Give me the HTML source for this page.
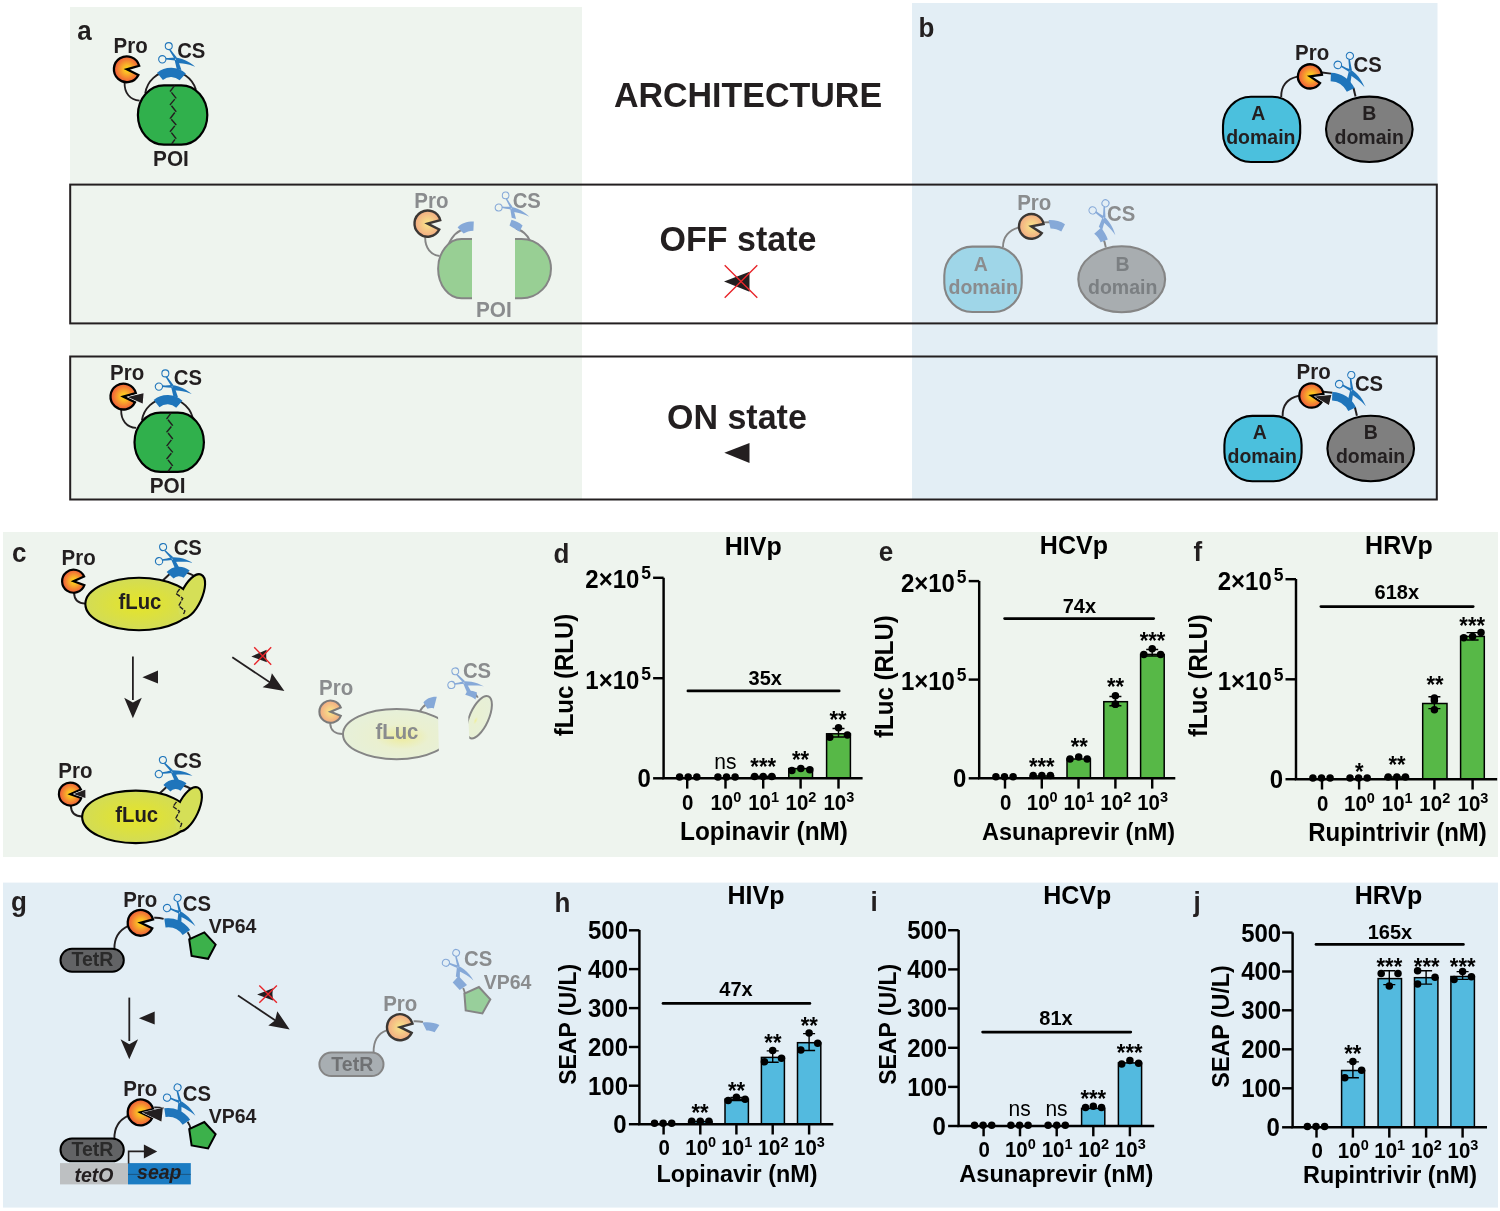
<!DOCTYPE html><html><head><meta charset="utf-8"><title>Figure</title><style>html,body{margin:0;padding:0;background:#fff;}svg{display:block;filter:contrast(1);}text{font-family:"Liberation Sans",sans-serif;}</style></head><body>
<svg width="1500" height="1211" viewBox="0 0 1500 1211">
<defs><radialGradient id="pg" cx="0.53" cy="0.5" r="0.5"><stop offset="0" stop-color="#ffd90f"/><stop offset="0.3" stop-color="#fbbb27"/><stop offset="1" stop-color="#ef5c3a"/></radialGradient><radialGradient id="pgF" cx="0.52" cy="0.5" r="0.52"><stop offset="0" stop-color="#f8e78a"/><stop offset="1" stop-color="#f2a982"/></radialGradient><radialGradient id="lg" cx="0.5" cy="0.5" r="0.5"><stop offset="0" stop-color="#e6e526"/><stop offset="1" stop-color="#d3dc55"/></radialGradient><radialGradient id="lgF2" cx="0.4" cy="0.4" r="0.6"><stop offset="0" stop-color="#efef9c"/><stop offset="0.15" stop-color="#e9f0d2"/><stop offset="1" stop-color="#e7f0d8"/></radialGradient><radialGradient id="lgF" cx="0.55" cy="0.55" r="0.5"><stop offset="0" stop-color="#eeec9a"/><stop offset="0.5" stop-color="#eaf0d0"/><stop offset="1" stop-color="#e7f0d8"/></radialGradient></defs>
<rect x="0" y="0" width="1500" height="1211" fill="#fff"/>
<rect x="70" y="7" width="512" height="493" fill="#eef4ee"/>
<rect x="912" y="3" width="525.5" height="497" fill="#e3eef5"/>
<rect x="3" y="532" width="1495" height="325" fill="#eef4ee"/>
<rect x="3" y="882.6" width="1495" height="325" fill="#e3eef5"/>
<rect x="70.2" y="184.6" width="1366.6" height="138.8" fill="none" stroke="#231f20" stroke-width="2"/>
<rect x="70.2" y="356.5" width="1366.6" height="143" fill="none" stroke="#231f20" stroke-width="2"/>
<text x="77.3" y="0" transform="translate(0,39.6) scale(1,1.05)" font-size="26" text-anchor="start" fill="#231f20" font-weight="bold" >a</text>
<text x="918.6" y="0" transform="translate(0,36.6) scale(1,1.05)" font-size="26" text-anchor="start" fill="#231f20" font-weight="bold" >b</text>
<text x="748.0" y="0" transform="translate(0,106.5) scale(1,1.05)" font-size="34" text-anchor="middle" fill="#231f20" font-weight="bold" >ARCHITECTURE</text>
<text x="738.0" y="0" transform="translate(0,251.3) scale(1,1.05)" font-size="34" text-anchor="middle" fill="#231f20" font-weight="bold" >OFF state</text>
<text x="736.9" y="0" transform="translate(0,428.7) scale(1,1.05)" font-size="34" text-anchor="middle" fill="#231f20" font-weight="bold" >ON state</text>
<path d="M724,281.5 L749.5,271.8 L749.5,291.8 Z" fill="#231f20"/>
<path d="M724.7,265.3 L757.3,297.7 M757.3,265.3 L724.7,297.7" stroke="#e8262b" stroke-width="1.4" fill="none"/>
<path d="M724.3,452.8 L749.5,443 L749.5,463 Z" fill="#231f20"/>
<path d="M124.6,82.5 C124.2,93 130,100 139.6,100.6" fill="none" stroke="#231f20" stroke-width="1.8"/>
<path d="M145.30,93.07 A26,26 0 0 1 195.94,89.66" fill="none" stroke="#231f20" stroke-width="1.9"/>
<rect x="137.9" y="85.4" width="69.4" height="59.2" rx="26" ry="29.6" fill="#30b04c" stroke="#000" stroke-width="2.2"/>
<polyline points="174.6,85.6 170.4,91.1 175.8,97.9 170.4,104.4 175.8,111.2 170.4,118.3 175.8,124.6 170.4,131.3 175.8,138.3 171.6,144.0" fill="none" stroke="#231f20" stroke-width="1.45" stroke-linejoin="miter" stroke-dasharray="7.6 1.0"/>
<path d="M157.06,72.69 A22.15,22.15 0 0 1 185.82,73.44 L179.60,80.35 A12.85,12.85 0 0 0 162.91,79.91 Z" fill="#1f75bb"/>
<g transform="translate(175.50,58.50) rotate(0) scale(1.0)" fill="#1f75bb" stroke="#1f75bb"><circle cx="-6.75" cy="-12.4" r="3.5" fill="none" stroke-width="1.05"/><circle cx="-13.2" cy="0.8" r="3.65" fill="none" stroke-width="1.1"/><path d="M-6.4,-8.5 L-5.1,-9.2 Q-2.4,-5.5 1.3,-0.9 L-0.8,0.5 Q-3.5,-3.7 -6.4,-8.5 Z" stroke="none"/><path d="M-9.7,-0.5 Q-5,-0.2 -0.5,-0.9 L-0.2,1.9 Q-5,1.6 -9.7,1.1 Z" stroke="none"/><path d="M-0.6,-0.9 C4,-0.4 9,1.1 14,4.1 C16,5.4 18,6.7 19.7,8.2 C17.6,7.4 16,6.7 14,6.2 C9,5.1 5,4.5 2,4.4 Z" stroke="none"/><path d="M-1.0,1.0 L2.8,2.3 L5.9,11.5 L1.3,10.7 Z" stroke="none"/></g>
<path d="M126.80,69.30 L138.39,74.95 A12.9,12.9 0 1 1 139.20,65.74 Z" fill="url(#pg)" stroke="#000" stroke-width="2.3" stroke-linejoin="miter"/>
<text x="130.6" y="0" transform="translate(0,53.1) scale(1,1.05)" font-size="20.5" text-anchor="middle" fill="#231f20" font-weight="bold" >Pro</text>
<text x="191.3" y="0" transform="translate(0,57.5) scale(1,1.05)" font-size="20.3" text-anchor="middle" fill="#231f20" font-weight="bold" >CS</text>
<text x="171.0" y="0" transform="translate(0,165.8) scale(1,1.05)" font-size="20.8" text-anchor="middle" fill="#231f20" font-weight="bold" >POI</text>
<g transform="translate(-3.4,327.3)" >
<path d="M124.6,82.5 C124.2,93 130,100 139.6,100.6" fill="none" stroke="#231f20" stroke-width="1.8"/>
<path d="M145.30,93.07 A26,26 0 0 1 195.94,89.66" fill="none" stroke="#231f20" stroke-width="1.9"/>
<rect x="137.9" y="85.4" width="69.4" height="59.2" rx="26" ry="29.6" fill="#30b04c" stroke="#000" stroke-width="2.2"/>
<polyline points="174.6,85.6 170.4,91.1 175.8,97.9 170.4,104.4 175.8,111.2 170.4,118.3 175.8,124.6 170.4,131.3 175.8,138.3 171.6,144.0" fill="none" stroke="#231f20" stroke-width="1.45" stroke-linejoin="miter" stroke-dasharray="7.6 1.0"/>
<path d="M157.06,72.69 A22.15,22.15 0 0 1 185.82,73.44 L179.60,80.35 A12.85,12.85 0 0 0 162.91,79.91 Z" fill="#1f75bb"/>
<g transform="translate(175.50,58.50) rotate(0) scale(1.0)" fill="#1f75bb" stroke="#1f75bb"><circle cx="-6.75" cy="-12.4" r="3.5" fill="none" stroke-width="1.05"/><circle cx="-13.2" cy="0.8" r="3.65" fill="none" stroke-width="1.1"/><path d="M-6.4,-8.5 L-5.1,-9.2 Q-2.4,-5.5 1.3,-0.9 L-0.8,0.5 Q-3.5,-3.7 -6.4,-8.5 Z" stroke="none"/><path d="M-9.7,-0.5 Q-5,-0.2 -0.5,-0.9 L-0.2,1.9 Q-5,1.6 -9.7,1.1 Z" stroke="none"/><path d="M-0.6,-0.9 C4,-0.4 9,1.1 14,4.1 C16,5.4 18,6.7 19.7,8.2 C17.6,7.4 16,6.7 14,6.2 C9,5.1 5,4.5 2,4.4 Z" stroke="none"/><path d="M-1.0,1.0 L2.8,2.3 L5.9,11.5 L1.3,10.7 Z" stroke="none"/></g>
<path d="M126.80,69.30 L138.39,74.95 A12.9,12.9 0 1 1 139.20,65.74 Z" fill="url(#pg)" stroke="#000" stroke-width="2.3" stroke-linejoin="miter"/>
<path d="M131.18,69.68 L146.03,76.11 L146.92,65.93 Z" fill="#231f20" stroke="#fff" stroke-width="0.9" stroke-linejoin="miter"/>
<path d="M131.18,69.68 L146.03,76.11 L146.92,65.93 Z" fill="#231f20"/>
<text x="130.6" y="0" transform="translate(0,53.1) scale(1,1.05)" font-size="20.5" text-anchor="middle" fill="#231f20" font-weight="bold" >Pro</text>
<text x="191.3" y="0" transform="translate(0,57.5) scale(1,1.05)" font-size="20.3" text-anchor="middle" fill="#231f20" font-weight="bold" >CS</text>
<text x="171.0" y="0" transform="translate(0,165.8) scale(1,1.05)" font-size="20.8" text-anchor="middle" fill="#231f20" font-weight="bold" >POI</text>
</g>
<path d="M425.2,237.5 C425,248 431,255 439.6,256" fill="none" stroke="#858585" stroke-width="1.9"/>
<path d="M448,245.5 C452,236 458,230 466,228.8" fill="none" stroke="#858585" stroke-width="1.9"/>
<path d="M516,228.5 C522,230.5 527,234 529.8,240.5" fill="none" stroke="#858585" stroke-width="1.9"/>
<path d="M472,239.1 H461.5 A23.4,29.6 0 0 0 461.5,298.3 H472 Z" fill="#98cf94"/>
<path d="M472,239.1 H461.5 A23.4,29.6 0 0 0 461.5,298.3 H472" fill="none" stroke="#858585" stroke-width="2"/>
<path d="M515,239.1 H521.5 A29.5,29.6 0 0 1 521.5,298.3 H515 Z" fill="#98cf94"/>
<path d="M515,239.1 H521.5 A29.5,29.6 0 0 1 521.5,298.3 H515" fill="none" stroke="#858585" stroke-width="2"/>
<path d="M457.6,227.5 C461,223.5 467,221.5 473.8,221.6 L473.4,230.8 C469.5,230.8 466.5,232 463.6,233.6 Z" fill="#86a9d8"/>
<path d="M509.5,225.5 L511.5,219.8 C515.5,220.8 519.5,222.6 522.6,225.4 L519.5,231.8 C517,229.8 513,228 509.5,225.5 Z" fill="#86a9d8"/>
<g transform="translate(511.20,207.60) rotate(4) scale(0.95)" fill="#86a9d8" stroke="#86a9d8"><circle cx="-6.75" cy="-12.4" r="3.5" fill="none" stroke-width="1.05"/><circle cx="-13.2" cy="0.8" r="3.65" fill="none" stroke-width="1.1"/><path d="M-6.4,-8.5 L-5.1,-9.2 Q-2.4,-5.5 1.3,-0.9 L-0.8,0.5 Q-3.5,-3.7 -6.4,-8.5 Z" stroke="none"/><path d="M-9.7,-0.5 Q-5,-0.2 -0.5,-0.9 L-0.2,1.9 Q-5,1.6 -9.7,1.1 Z" stroke="none"/><path d="M-0.6,-0.9 C4,-0.4 9,1.1 14,4.1 C16,5.4 18,6.7 19.7,8.2 C17.6,7.4 16,6.7 14,6.2 C9,5.1 5,4.5 2,4.4 Z" stroke="none"/><path d="M-1.0,1.0 L2.8,2.3 L5.9,11.5 L1.3,10.7 Z" stroke="none"/></g>
<path d="M427.60,223.60 L439.27,229.55 A13.1,13.1 0 1 1 440.25,220.21 Z" fill="url(#pgF)" stroke="#3b3734" stroke-width="2.4" stroke-linejoin="miter"/>
<text x="431.4" y="0" transform="translate(0,207.6) scale(1,1.05)" font-size="20.5" text-anchor="middle" fill="#8a8c8e" font-weight="bold" >Pro</text>
<text x="526.8" y="0" transform="translate(0,207.6) scale(1,1.05)" font-size="20.3" text-anchor="middle" fill="#8a8c8e" font-weight="bold" >CS</text>
<text x="493.8" y="0" transform="translate(0,316.9) scale(1,1.05)" font-size="20.8" text-anchor="middle" fill="#8a8c8e" font-weight="bold" >POI</text>
<path d="M1281.2,97 C1281,86 1287,79 1297.4,76.6" fill="none" stroke="#231f20" stroke-width="1.9"/>
<path d="M1322,72.5 L1331,73.6" fill="none" stroke="#231f20" stroke-width="1.9"/>
<path d="M1353.5,88 L1355.5,96.5" fill="none" stroke="#231f20" stroke-width="2"/>
<rect x="1223" y="96.7" width="77.2" height="65.3" rx="28" ry="29" fill="#4bc0dd" stroke="#000" stroke-width="2.1"/>
<ellipse cx="1369.3" cy="129.3" rx="43.3" ry="32.7" fill="#7f7f7f" stroke="#000" stroke-width="2.1"/>
<path d="M1330.95,72.77 A27.25,27.25 0 0 1 1354.49,88.05 L1346.85,91.78 A18.75,18.75 0 0 0 1330.65,81.26 Z" fill="#1f75bb"/>
<g transform="translate(1350.30,70.40) rotate(27) scale(1.03)" fill="#1f75bb" stroke="#1f75bb"><circle cx="-6.75" cy="-12.4" r="3.5" fill="none" stroke-width="1.05"/><circle cx="-13.2" cy="0.8" r="3.65" fill="none" stroke-width="1.1"/><path d="M-6.4,-8.5 L-5.1,-9.2 Q-2.4,-5.5 1.3,-0.9 L-0.8,0.5 Q-3.5,-3.7 -6.4,-8.5 Z" stroke="none"/><path d="M-9.7,-0.5 Q-5,-0.2 -0.5,-0.9 L-0.2,1.9 Q-5,1.6 -9.7,1.1 Z" stroke="none"/><path d="M-0.6,-0.9 C4,-0.4 9,1.1 14,4.1 C16,5.4 18,6.7 19.7,8.2 C17.6,7.4 16,6.7 14,6.2 C9,5.1 5,4.5 2,4.4 Z" stroke="none"/><path d="M-1.0,1.0 L2.8,2.3 L5.9,11.5 L1.3,10.7 Z" stroke="none"/></g>
<path d="M1310.00,76.40 L1320.03,83.17 A12.1,12.1 0 1 1 1321.98,74.72 Z" fill="url(#pg)" stroke="#000" stroke-width="2.3" stroke-linejoin="miter"/>
<text x="1312.2" y="0" transform="translate(0,59.6) scale(1,1.05)" font-size="20.5" text-anchor="middle" fill="#231f20" font-weight="bold" >Pro</text>
<text x="1367.6" y="0" transform="translate(0,71.6) scale(1,1.05)" font-size="20.3" text-anchor="middle" fill="#231f20" font-weight="bold" >CS</text>
<text x="1258.4" y="0" transform="translate(0,120.0) scale(1,1.05)" font-size="19.5" text-anchor="middle" fill="#231f20" font-weight="bold" >A</text>
<text x="1260.8" y="0" transform="translate(0,143.6) scale(1,1.05)" font-size="19.5" text-anchor="middle" fill="#231f20" font-weight="bold" >domain</text>
<text x="1369.4" y="0" transform="translate(0,120.2) scale(1,1.05)" font-size="19.5" text-anchor="middle" fill="#231f20" font-weight="bold" >B</text>
<text x="1369.2" y="0" transform="translate(0,143.6) scale(1,1.05)" font-size="19.5" text-anchor="middle" fill="#231f20" font-weight="bold" >domain</text>
<g transform="translate(1.4,319.2)" >
<path d="M1281.2,97 C1281,86 1287,79 1297.4,76.6" fill="none" stroke="#231f20" stroke-width="1.9"/>
<path d="M1322,72.5 L1331,73.6" fill="none" stroke="#231f20" stroke-width="1.9"/>
<path d="M1353.5,88 L1355.5,96.5" fill="none" stroke="#231f20" stroke-width="2"/>
<rect x="1223" y="96.7" width="77.2" height="65.3" rx="28" ry="29" fill="#4bc0dd" stroke="#000" stroke-width="2.1"/>
<ellipse cx="1369.3" cy="129.3" rx="43.3" ry="32.7" fill="#7f7f7f" stroke="#000" stroke-width="2.1"/>
<path d="M1330.95,72.77 A27.25,27.25 0 0 1 1354.49,88.05 L1346.85,91.78 A18.75,18.75 0 0 0 1330.65,81.26 Z" fill="#1f75bb"/>
<g transform="translate(1350.30,70.40) rotate(27) scale(1.03)" fill="#1f75bb" stroke="#1f75bb"><circle cx="-6.75" cy="-12.4" r="3.5" fill="none" stroke-width="1.05"/><circle cx="-13.2" cy="0.8" r="3.65" fill="none" stroke-width="1.1"/><path d="M-6.4,-8.5 L-5.1,-9.2 Q-2.4,-5.5 1.3,-0.9 L-0.8,0.5 Q-3.5,-3.7 -6.4,-8.5 Z" stroke="none"/><path d="M-9.7,-0.5 Q-5,-0.2 -0.5,-0.9 L-0.2,1.9 Q-5,1.6 -9.7,1.1 Z" stroke="none"/><path d="M-0.6,-0.9 C4,-0.4 9,1.1 14,4.1 C16,5.4 18,6.7 19.7,8.2 C17.6,7.4 16,6.7 14,6.2 C9,5.1 5,4.5 2,4.4 Z" stroke="none"/><path d="M-1.0,1.0 L2.8,2.3 L5.9,11.5 L1.3,10.7 Z" stroke="none"/></g>
<path d="M1310.00,76.40 L1320.03,83.17 A12.1,12.1 0 1 1 1321.98,74.72 Z" fill="url(#pg)" stroke="#000" stroke-width="2.3" stroke-linejoin="miter"/>
<path d="M1313.31,77.19 L1327.49,85.90 L1329.89,75.88 Z" fill="#231f20" stroke="#fff" stroke-width="0.9" stroke-linejoin="miter"/>
<path d="M1313.31,77.19 L1327.49,85.90 L1329.89,75.88 Z" fill="#231f20"/>
<text x="1312.2" y="0" transform="translate(0,59.6) scale(1,1.05)" font-size="20.5" text-anchor="middle" fill="#231f20" font-weight="bold" >Pro</text>
<text x="1367.6" y="0" transform="translate(0,71.6) scale(1,1.05)" font-size="20.3" text-anchor="middle" fill="#231f20" font-weight="bold" >CS</text>
<text x="1258.4" y="0" transform="translate(0,120.0) scale(1,1.05)" font-size="19.5" text-anchor="middle" fill="#231f20" font-weight="bold" >A</text>
<text x="1260.8" y="0" transform="translate(0,143.6) scale(1,1.05)" font-size="19.5" text-anchor="middle" fill="#231f20" font-weight="bold" >domain</text>
<text x="1369.4" y="0" transform="translate(0,120.2) scale(1,1.05)" font-size="19.5" text-anchor="middle" fill="#231f20" font-weight="bold" >B</text>
<text x="1369.2" y="0" transform="translate(0,143.6) scale(1,1.05)" font-size="19.5" text-anchor="middle" fill="#231f20" font-weight="bold" >domain</text>
</g>
<path d="M1003,247 C1003,237 1009,230 1018.4,227.6" fill="none" stroke="#858585" stroke-width="1.9"/>
<path d="M1043.5,222.4 L1050,222.2" fill="none" stroke="#858585" stroke-width="1.9"/>
<path d="M1102,237 C1104,240 1105.5,243.5 1105.8,247.5" fill="none" stroke="#858585" stroke-width="1.9"/>
<rect x="944.3" y="246.6" width="77.4" height="65.4" rx="28" ry="29" fill="#9fd6e8" stroke="#858585" stroke-width="2.1"/>
<ellipse cx="1121.7" cy="279.3" rx="43.4" ry="33" fill="#a8adb0" stroke="#858585" stroke-width="2.1"/>
<path d="M1048.6,220 C1054.5,219.8 1060.5,221 1065,224.3 L1061.3,231.6 C1058,229.6 1054.5,228.6 1050.5,228.6 Z" fill="#86a9d8"/>
<path d="M1094.2,233.8 L1101,227.8 C1104,231.4 1106.5,235.5 1107.8,239.6 L1100.6,242.3 C1099.2,239 1097,236 1094.2,233.8 Z" fill="#86a9d8"/>
<g transform="translate(1103.90,217.30) rotate(35) scale(1.0)" fill="#86a9d8" stroke="#86a9d8"><circle cx="-6.75" cy="-12.4" r="3.5" fill="none" stroke-width="1.05"/><circle cx="-13.2" cy="0.8" r="3.65" fill="none" stroke-width="1.1"/><path d="M-6.4,-8.5 L-5.1,-9.2 Q-2.4,-5.5 1.3,-0.9 L-0.8,0.5 Q-3.5,-3.7 -6.4,-8.5 Z" stroke="none"/><path d="M-9.7,-0.5 Q-5,-0.2 -0.5,-0.9 L-0.2,1.9 Q-5,1.6 -9.7,1.1 Z" stroke="none"/><path d="M-0.6,-0.9 C4,-0.4 9,1.1 14,4.1 C16,5.4 18,6.7 19.7,8.2 C17.6,7.4 16,6.7 14,6.2 C9,5.1 5,4.5 2,4.4 Z" stroke="none"/><path d="M-1.0,1.0 L2.8,2.3 L5.9,11.5 L1.3,10.7 Z" stroke="none"/></g>
<path d="M1031.40,226.40 L1041.80,233.15 A12.4,12.4 0 1 1 1043.57,224.03 Z" fill="url(#pgF)" stroke="#3b3734" stroke-width="2.4" stroke-linejoin="miter"/>
<text x="1034.3" y="0" transform="translate(0,209.5) scale(1,1.05)" font-size="20.5" text-anchor="middle" fill="#8a8c8e" font-weight="bold" >Pro</text>
<text x="1121.1" y="0" transform="translate(0,221.4) scale(1,1.05)" font-size="20.3" text-anchor="middle" fill="#8a8c8e" font-weight="bold" >CS</text>
<text x="980.9" y="0" transform="translate(0,270.5) scale(1,1.05)" font-size="19.5" text-anchor="middle" fill="#8a8c8e" font-weight="bold" >A</text>
<text x="983.2" y="0" transform="translate(0,293.9) scale(1,1.05)" font-size="19.5" text-anchor="middle" fill="#8a8c8e" font-weight="bold" >domain</text>
<text x="1122.5" y="0" transform="translate(0,270.5) scale(1,1.05)" font-size="19.5" text-anchor="middle" fill="#7b7f82" font-weight="bold" >B</text>
<text x="1122.7" y="0" transform="translate(0,293.9) scale(1,1.05)" font-size="19.5" text-anchor="middle" fill="#7b7f82" font-weight="bold" >domain</text>
<rect x="751.4" y="776.3" width="23.6" height="2.0" fill="#57b847" stroke="#000" stroke-width="1.5"/>
<rect x="788.8" y="768.6" width="23.7" height="9.7" fill="#57b847" stroke="#000" stroke-width="1.5"/>
<rect x="826.6" y="733.8" width="23.8" height="44.5" fill="#57b847" stroke="#000" stroke-width="1.5"/>
<path d="M838.5,728.5 V737.0 M832.5,728.5 H844.5 M832.5,737.0 H844.5" stroke="#000" stroke-width="1.4" fill="none"/>
<path d="M663.6,577.7 V778.3 H862.6" stroke="#000" stroke-width="2.45" fill="none" stroke-linejoin="miter"/>
<path d="M653.1,577.8 H663.6" stroke="#000" stroke-width="2.45"/>
<text x="651.0" y="0" transform="translate(0,588.4) scale(1,1.05)" font-size="24" font-weight="bold" text-anchor="end" fill="#000">2×10<tspan dx="1.9" dy="-8.6" font-size="17.5">5</tspan></text>
<path d="M653.1,678.2 H663.6" stroke="#000" stroke-width="2.45"/>
<text x="651.0" y="0" transform="translate(0,688.8) scale(1,1.05)" font-size="24" font-weight="bold" text-anchor="end" fill="#000">1×10<tspan dx="1.9" dy="-8.6" font-size="17.5">5</tspan></text>
<path d="M653.1,778.3 H663.6" stroke="#000" stroke-width="2.45"/>
<text x="650.8" y="0" transform="translate(0,787.2) scale(1,1.05)" font-size="24" font-weight="bold" text-anchor="end" fill="#000">0</text>
<path d="M687.2,778.3 V788.5999999999999" stroke="#000" stroke-width="2.45"/>
<text x="687.8" y="0" transform="translate(0,810.3) scale(1,1.05)" font-size="20.5" font-weight="bold" text-anchor="middle" fill="#000">0</text>
<path d="M725.5,778.3 V788.5999999999999" stroke="#000" stroke-width="2.45"/>
<text x="725.9" y="0" transform="translate(0,810.3) scale(1,1.05)" font-size="20.5" font-weight="bold" text-anchor="middle" fill="#000">10<tspan dy="-7.5" font-size="14.5">0</tspan></text>
<path d="M763.2,778.3 V788.5999999999999" stroke="#000" stroke-width="2.45"/>
<text x="763.6" y="0" transform="translate(0,810.3) scale(1,1.05)" font-size="20.5" font-weight="bold" text-anchor="middle" fill="#000">10<tspan dy="-7.5" font-size="14.5">1</tspan></text>
<path d="M800.6,778.3 V788.5999999999999" stroke="#000" stroke-width="2.45"/>
<text x="801.0" y="0" transform="translate(0,810.3) scale(1,1.05)" font-size="20.5" font-weight="bold" text-anchor="middle" fill="#000">10<tspan dy="-7.5" font-size="14.5">2</tspan></text>
<path d="M838.5,778.3 V788.5999999999999" stroke="#000" stroke-width="2.45"/>
<text x="838.9" y="0" transform="translate(0,810.3) scale(1,1.05)" font-size="20.5" font-weight="bold" text-anchor="middle" fill="#000">10<tspan dy="-7.5" font-size="14.5">3</tspan></text>
<circle cx="679.6" cy="777.0" r="3.75" fill="#000"/>
<circle cx="688.2" cy="777.0" r="3.75" fill="#000"/>
<circle cx="696.8" cy="777.0" r="3.75" fill="#000"/>
<circle cx="717.9" cy="777.0" r="3.75" fill="#000"/>
<circle cx="726.5" cy="777.0" r="3.75" fill="#000"/>
<circle cx="735.1" cy="777.0" r="3.75" fill="#000"/>
<circle cx="754.6" cy="776.4" r="3.75" fill="#000"/>
<circle cx="763.2" cy="776.4" r="3.75" fill="#000"/>
<circle cx="771.8" cy="776.4" r="3.75" fill="#000"/>
<circle cx="791.9" cy="770.6" r="3.75" fill="#000"/>
<circle cx="800.8" cy="768.6" r="3.75" fill="#000"/>
<circle cx="809.8" cy="769.8" r="3.75" fill="#000"/>
<circle cx="829.8" cy="737.2" r="3.75" fill="#000"/>
<circle cx="838.5" cy="727.8" r="3.75" fill="#000"/>
<circle cx="847.4" cy="735.0" r="3.75" fill="#000"/>
<text x="725.3" y="0" transform="translate(0,768.6) scale(1,1.05)" font-size="21" text-anchor="middle" fill="#000">ns</text>
<text x="763.2" y="0" transform="translate(0,775.0) scale(1,1.05)" font-size="22" font-weight="bold" text-anchor="middle" fill="#000">***</text>
<text x="800.5" y="0" transform="translate(0,768.4) scale(1,1.05)" font-size="22" font-weight="bold" text-anchor="middle" fill="#000">**</text>
<text x="838.0" y="0" transform="translate(0,727.6) scale(1,1.05)" font-size="22" font-weight="bold" text-anchor="middle" fill="#000">**</text>
<path d="M687.9,690.9 H839.2" stroke="#000" stroke-width="2.7" stroke-linecap="round"/>
<text x="765.2" y="0" transform="translate(0,685.2) scale(1,1.05)" font-size="20" font-weight="bold" text-anchor="middle" fill="#000">35x</text>
<text x="553.6" y="0" transform="translate(0,563.2) scale(1,1.05)" font-size="26" text-anchor="start" fill="#231f20" font-weight="bold" >d</text>
<text x="753.2" y="0" transform="translate(0,554.5) scale(1,1.05)" font-size="25" font-weight="bold" text-anchor="middle" fill="#000">HIVp</text>
<text x="0" y="0" transform="translate(572.5,675.0) rotate(-90) scale(1,1.05)" font-size="24" font-weight="bold" text-anchor="middle" fill="#000">fLuc (RLU)</text>
<text x="764" y="0" transform="translate(0,839.5) scale(1,1.05)" font-size="24.4" font-weight="bold" text-anchor="middle" fill="#000">Lopinavir (nM)</text>
<rect x="1030.2" y="776.0" width="23.4" height="2.3" fill="#57b847" stroke="#000" stroke-width="1.5"/>
<rect x="1067.0" y="759.0" width="23.4" height="19.3" fill="#57b847" stroke="#000" stroke-width="1.5"/>
<rect x="1103.8" y="701.7" width="23.6" height="76.6" fill="#57b847" stroke="#000" stroke-width="1.5"/>
<rect x="1140.6" y="654.4" width="23.6" height="123.9" fill="#57b847" stroke="#000" stroke-width="1.5"/>
<path d="M1115.4,696.5 V705.7 M1109.4,696.5 H1121.4 M1109.4,705.7 H1121.4" stroke="#000" stroke-width="1.4" fill="none"/>
<path d="M1152.2,649.5 V656.0 M1146.2,649.5 H1158.2 M1146.2,656.0 H1158.2" stroke="#000" stroke-width="1.4" fill="none"/>
<path d="M979.2,581.0 V778.3 H1175.3" stroke="#000" stroke-width="2.45" fill="none" stroke-linejoin="miter"/>
<path d="M968.7,581.1 H979.2" stroke="#000" stroke-width="2.45"/>
<text x="966.6" y="0" transform="translate(0,591.7) scale(1,1.05)" font-size="24" font-weight="bold" text-anchor="end" fill="#000">2×10<tspan dx="1.9" dy="-8.6" font-size="17.5">5</tspan></text>
<path d="M968.7,679.6 H979.2" stroke="#000" stroke-width="2.45"/>
<text x="966.6" y="0" transform="translate(0,690.2) scale(1,1.05)" font-size="24" font-weight="bold" text-anchor="end" fill="#000">1×10<tspan dx="1.9" dy="-8.6" font-size="17.5">5</tspan></text>
<path d="M968.7,778.3 H979.2" stroke="#000" stroke-width="2.45"/>
<text x="966.4" y="0" transform="translate(0,787.2) scale(1,1.05)" font-size="24" font-weight="bold" text-anchor="end" fill="#000">0</text>
<path d="M1005.0,778.3 V788.5999999999999" stroke="#000" stroke-width="2.45"/>
<text x="1005.6" y="0" transform="translate(0,810.3) scale(1,1.05)" font-size="20.5" font-weight="bold" text-anchor="middle" fill="#000">0</text>
<path d="M1041.8,778.3 V788.5999999999999" stroke="#000" stroke-width="2.45"/>
<text x="1042.2" y="0" transform="translate(0,810.3) scale(1,1.05)" font-size="20.5" font-weight="bold" text-anchor="middle" fill="#000">10<tspan dy="-7.5" font-size="14.5">0</tspan></text>
<path d="M1078.5,778.3 V788.5999999999999" stroke="#000" stroke-width="2.45"/>
<text x="1078.9" y="0" transform="translate(0,810.3) scale(1,1.05)" font-size="20.5" font-weight="bold" text-anchor="middle" fill="#000">10<tspan dy="-7.5" font-size="14.5">1</tspan></text>
<path d="M1115.4,778.3 V788.5999999999999" stroke="#000" stroke-width="2.45"/>
<text x="1115.8" y="0" transform="translate(0,810.3) scale(1,1.05)" font-size="20.5" font-weight="bold" text-anchor="middle" fill="#000">10<tspan dy="-7.5" font-size="14.5">2</tspan></text>
<path d="M1152.2,778.3 V788.5999999999999" stroke="#000" stroke-width="2.45"/>
<text x="1152.6" y="0" transform="translate(0,810.3) scale(1,1.05)" font-size="20.5" font-weight="bold" text-anchor="middle" fill="#000">10<tspan dy="-7.5" font-size="14.5">3</tspan></text>
<circle cx="995.9" cy="776.8" r="3.75" fill="#000"/>
<circle cx="1004.5" cy="776.8" r="3.75" fill="#000"/>
<circle cx="1013.1" cy="776.8" r="3.75" fill="#000"/>
<circle cx="1033.2" cy="775.4" r="3.75" fill="#000"/>
<circle cx="1041.8" cy="775.4" r="3.75" fill="#000"/>
<circle cx="1050.4" cy="775.4" r="3.75" fill="#000"/>
<circle cx="1070.0" cy="759.0" r="3.75" fill="#000"/>
<circle cx="1078.7" cy="757.0" r="3.75" fill="#000"/>
<circle cx="1087.2" cy="759.0" r="3.75" fill="#000"/>
<circle cx="1115.4" cy="695.8" r="3.75" fill="#000"/>
<circle cx="1115.4" cy="704.3" r="3.75" fill="#000"/>
<circle cx="1115.4" cy="704.3" r="3.75" fill="#000"/>
<circle cx="1143.8" cy="654.4" r="3.75" fill="#000"/>
<circle cx="1152.2" cy="648.8" r="3.75" fill="#000"/>
<circle cx="1160.6" cy="654.4" r="3.75" fill="#000"/>
<text x="1041.8" y="0" transform="translate(0,774.9) scale(1,1.05)" font-size="22" font-weight="bold" text-anchor="middle" fill="#000">***</text>
<text x="1079.2" y="0" transform="translate(0,755.2) scale(1,1.05)" font-size="22" font-weight="bold" text-anchor="middle" fill="#000">**</text>
<text x="1115.5" y="0" transform="translate(0,695.2) scale(1,1.05)" font-size="22" font-weight="bold" text-anchor="middle" fill="#000">**</text>
<text x="1152.6" y="0" transform="translate(0,648.8) scale(1,1.05)" font-size="22" font-weight="bold" text-anchor="middle" fill="#000">***</text>
<path d="M1004.6,618.6 H1153.7" stroke="#000" stroke-width="2.7" stroke-linecap="round"/>
<text x="1079.4" y="0" transform="translate(0,612.7) scale(1,1.05)" font-size="20" font-weight="bold" text-anchor="middle" fill="#000">74x</text>
<text x="878.8" y="0" transform="translate(0,560.8) scale(1,1.05)" font-size="26" text-anchor="start" fill="#231f20" font-weight="bold" >e</text>
<text x="1073.9" y="0" transform="translate(0,554.0) scale(1,1.05)" font-size="25" font-weight="bold" text-anchor="middle" fill="#000">HCVp</text>
<text x="0" y="0" transform="translate(892.8,676.6) rotate(-90) scale(1,1.05)" font-size="24" font-weight="bold" text-anchor="middle" fill="#000">fLuc (RLU)</text>
<text x="1078.6" y="0" transform="translate(0,839.5) scale(1,1.05)" font-size="23.5" font-weight="bold" text-anchor="middle" fill="#000">Asunaprevir (nM)</text>
<rect x="1385.0" y="777.0" width="23.5" height="2.2" fill="#57b847" stroke="#000" stroke-width="1.5"/>
<rect x="1422.7" y="703.5" width="24.3" height="75.7" fill="#57b847" stroke="#000" stroke-width="1.5"/>
<rect x="1460.6" y="636.4" width="23.7" height="142.8" fill="#57b847" stroke="#000" stroke-width="1.5"/>
<path d="M1434.4,696.8 V708.6 M1428.4,696.8 H1440.4 M1428.4,708.6 H1440.4" stroke="#000" stroke-width="1.4" fill="none"/>
<path d="M1472.6,632.6 V640.0 M1466.6,632.6 H1478.6 M1466.6,640.0 H1478.6" stroke="#000" stroke-width="1.4" fill="none"/>
<path d="M1296.0,579.0 V779.2 H1497.2" stroke="#000" stroke-width="2.45" fill="none" stroke-linejoin="miter"/>
<path d="M1285.5,579.2 H1296.0" stroke="#000" stroke-width="2.45"/>
<text x="1283.4" y="0" transform="translate(0,589.8) scale(1,1.05)" font-size="24" font-weight="bold" text-anchor="end" fill="#000">2×10<tspan dx="1.9" dy="-8.6" font-size="17.5">5</tspan></text>
<path d="M1285.5,679.3 H1296.0" stroke="#000" stroke-width="2.45"/>
<text x="1283.4" y="0" transform="translate(0,689.9) scale(1,1.05)" font-size="24" font-weight="bold" text-anchor="end" fill="#000">1×10<tspan dx="1.9" dy="-8.6" font-size="17.5">5</tspan></text>
<path d="M1285.5,779.2 H1296.0" stroke="#000" stroke-width="2.45"/>
<text x="1283.2" y="0" transform="translate(0,788.1) scale(1,1.05)" font-size="24" font-weight="bold" text-anchor="end" fill="#000">0</text>
<path d="M1322.0,779.2 V789.5" stroke="#000" stroke-width="2.45"/>
<text x="1322.6" y="0" transform="translate(0,811.2) scale(1,1.05)" font-size="20.5" font-weight="bold" text-anchor="middle" fill="#000">0</text>
<path d="M1359.1,779.2 V789.5" stroke="#000" stroke-width="2.45"/>
<text x="1359.5" y="0" transform="translate(0,811.2) scale(1,1.05)" font-size="20.5" font-weight="bold" text-anchor="middle" fill="#000">10<tspan dy="-7.5" font-size="14.5">0</tspan></text>
<path d="M1396.8,779.2 V789.5" stroke="#000" stroke-width="2.45"/>
<text x="1397.2" y="0" transform="translate(0,811.2) scale(1,1.05)" font-size="20.5" font-weight="bold" text-anchor="middle" fill="#000">10<tspan dy="-7.5" font-size="14.5">1</tspan></text>
<path d="M1434.4,779.2 V789.5" stroke="#000" stroke-width="2.45"/>
<text x="1434.8" y="0" transform="translate(0,811.2) scale(1,1.05)" font-size="20.5" font-weight="bold" text-anchor="middle" fill="#000">10<tspan dy="-7.5" font-size="14.5">2</tspan></text>
<path d="M1472.6,779.2 V789.5" stroke="#000" stroke-width="2.45"/>
<text x="1473.0" y="0" transform="translate(0,811.2) scale(1,1.05)" font-size="20.5" font-weight="bold" text-anchor="middle" fill="#000">10<tspan dy="-7.5" font-size="14.5">3</tspan></text>
<circle cx="1312.9" cy="778.0" r="3.75" fill="#000"/>
<circle cx="1321.5" cy="778.0" r="3.75" fill="#000"/>
<circle cx="1330.1" cy="778.0" r="3.75" fill="#000"/>
<circle cx="1350.0" cy="778.0" r="3.75" fill="#000"/>
<circle cx="1358.6" cy="778.0" r="3.75" fill="#000"/>
<circle cx="1367.2" cy="778.0" r="3.75" fill="#000"/>
<circle cx="1388.2" cy="777.0" r="3.75" fill="#000"/>
<circle cx="1396.8" cy="777.0" r="3.75" fill="#000"/>
<circle cx="1405.4" cy="777.0" r="3.75" fill="#000"/>
<circle cx="1434.4" cy="698.0" r="3.75" fill="#000"/>
<circle cx="1434.4" cy="700.4" r="3.75" fill="#000"/>
<circle cx="1434.4" cy="709.8" r="3.75" fill="#000"/>
<circle cx="1463.8" cy="637.7" r="3.75" fill="#000"/>
<circle cx="1472.6" cy="636.4" r="3.75" fill="#000"/>
<circle cx="1481.0" cy="632.5" r="3.75" fill="#000"/>
<text x="1359.2" y="0" transform="translate(0,780.0) scale(1,1.05)" font-size="22" font-weight="bold" text-anchor="middle" fill="#000">*</text>
<text x="1397.0" y="0" transform="translate(0,772.6) scale(1,1.05)" font-size="22" font-weight="bold" text-anchor="middle" fill="#000">**</text>
<text x="1435.0" y="0" transform="translate(0,693.2) scale(1,1.05)" font-size="22" font-weight="bold" text-anchor="middle" fill="#000">**</text>
<text x="1472.2" y="0" transform="translate(0,633.8) scale(1,1.05)" font-size="22" font-weight="bold" text-anchor="middle" fill="#000">***</text>
<path d="M1320.9,606.6 H1473.2" stroke="#000" stroke-width="2.7" stroke-linecap="round"/>
<text x="1396.8" y="0" transform="translate(0,598.8) scale(1,1.05)" font-size="20" font-weight="bold" text-anchor="middle" fill="#000">618x</text>
<text x="1193.6" y="0" transform="translate(0,560.8) scale(1,1.05)" font-size="26" text-anchor="start" fill="#231f20" font-weight="bold" >f</text>
<text x="1398.9" y="0" transform="translate(0,554.0) scale(1,1.05)" font-size="25" font-weight="bold" text-anchor="middle" fill="#000">HRVp</text>
<text x="0" y="0" transform="translate(1207.3,675.6) rotate(-90) scale(1,1.05)" font-size="24" font-weight="bold" text-anchor="middle" fill="#000">fLuc (RLU)</text>
<text x="1397.5" y="0" transform="translate(0,840.5) scale(1,1.05)" font-size="24" font-weight="bold" text-anchor="middle" fill="#000">Rupintrivir (nM)</text>
<rect x="688.6" y="1121.5" width="23.4" height="2.7" fill="#53badf" stroke="#000" stroke-width="1.5"/>
<rect x="725.0" y="1099.2" width="23.4" height="25.0" fill="#53badf" stroke="#000" stroke-width="1.5"/>
<rect x="761.4" y="1057.4" width="23.0" height="66.8" fill="#53badf" stroke="#000" stroke-width="1.5"/>
<rect x="797.5" y="1042.7" width="23.3" height="81.5" fill="#53badf" stroke="#000" stroke-width="1.5"/>
<path d="M772.7,1050.9 V1062.2 M766.7,1050.9 H778.7 M766.7,1062.2 H778.7" stroke="#000" stroke-width="1.4" fill="none"/>
<path d="M809.1,1033.6 V1050.5 M803.1,1033.6 H815.1 M803.1,1050.5 H815.1" stroke="#000" stroke-width="1.4" fill="none"/>
<path d="M736.4,1097.5 V1100.5 M730.4,1097.5 H742.4 M730.4,1100.5 H742.4" stroke="#000" stroke-width="1.4" fill="none"/>
<path d="M639.4,930.0 V1124.2 H833.3" stroke="#000" stroke-width="2.45" fill="none" stroke-linejoin="miter"/>
<path d="M628.9,930.3 H639.4" stroke="#000" stroke-width="2.45"/>
<text x="628.0" y="0" transform="translate(0,939.2) scale(1,1.05)" font-size="24" font-weight="bold" text-anchor="end" fill="#000">500</text>
<path d="M628.9,969.1 H639.4" stroke="#000" stroke-width="2.45"/>
<text x="628.0" y="0" transform="translate(0,978.0) scale(1,1.05)" font-size="24" font-weight="bold" text-anchor="end" fill="#000">400</text>
<path d="M628.9,1008.1 H639.4" stroke="#000" stroke-width="2.45"/>
<text x="628.0" y="0" transform="translate(0,1017.0) scale(1,1.05)" font-size="24" font-weight="bold" text-anchor="end" fill="#000">300</text>
<path d="M628.9,1047.0 H639.4" stroke="#000" stroke-width="2.45"/>
<text x="628.0" y="0" transform="translate(0,1055.9) scale(1,1.05)" font-size="24" font-weight="bold" text-anchor="end" fill="#000">200</text>
<path d="M628.9,1085.7 H639.4" stroke="#000" stroke-width="2.45"/>
<text x="628.0" y="0" transform="translate(0,1094.6) scale(1,1.05)" font-size="24" font-weight="bold" text-anchor="end" fill="#000">100</text>
<path d="M628.9,1124.2 H639.4" stroke="#000" stroke-width="2.45"/>
<text x="626.6" y="0" transform="translate(0,1133.1) scale(1,1.05)" font-size="24" font-weight="bold" text-anchor="end" fill="#000">0</text>
<path d="M663.6,1124.2 V1134.5" stroke="#000" stroke-width="2.45"/>
<text x="664.2" y="0" transform="translate(0,1155.0) scale(1,1.05)" font-size="20.5" font-weight="bold" text-anchor="middle" fill="#000">0</text>
<path d="M700.3,1124.2 V1134.5" stroke="#000" stroke-width="2.45"/>
<text x="700.7" y="0" transform="translate(0,1155.0) scale(1,1.05)" font-size="20.5" font-weight="bold" text-anchor="middle" fill="#000">10<tspan dy="-7.5" font-size="14.5">0</tspan></text>
<path d="M736.4,1124.2 V1134.5" stroke="#000" stroke-width="2.45"/>
<text x="736.8" y="0" transform="translate(0,1155.0) scale(1,1.05)" font-size="20.5" font-weight="bold" text-anchor="middle" fill="#000">10<tspan dy="-7.5" font-size="14.5">1</tspan></text>
<path d="M772.7,1124.2 V1134.5" stroke="#000" stroke-width="2.45"/>
<text x="773.1" y="0" transform="translate(0,1155.0) scale(1,1.05)" font-size="20.5" font-weight="bold" text-anchor="middle" fill="#000">10<tspan dy="-7.5" font-size="14.5">2</tspan></text>
<path d="M809.1,1124.2 V1134.5" stroke="#000" stroke-width="2.45"/>
<text x="809.5" y="0" transform="translate(0,1155.0) scale(1,1.05)" font-size="20.5" font-weight="bold" text-anchor="middle" fill="#000">10<tspan dy="-7.5" font-size="14.5">3</tspan></text>
<circle cx="654.5" cy="1123.2" r="3.75" fill="#000"/>
<circle cx="663.1" cy="1123.2" r="3.75" fill="#000"/>
<circle cx="671.7" cy="1123.2" r="3.75" fill="#000"/>
<circle cx="691.7" cy="1121.3" r="3.75" fill="#000"/>
<circle cx="700.3" cy="1121.3" r="3.75" fill="#000"/>
<circle cx="708.9" cy="1121.3" r="3.75" fill="#000"/>
<circle cx="728.2" cy="1100.5" r="3.75" fill="#000"/>
<circle cx="736.4" cy="1097.3" r="3.75" fill="#000"/>
<circle cx="745.1" cy="1099.2" r="3.75" fill="#000"/>
<circle cx="764.4" cy="1061.8" r="3.75" fill="#000"/>
<circle cx="772.7" cy="1050.5" r="3.75" fill="#000"/>
<circle cx="781.5" cy="1058.3" r="3.75" fill="#000"/>
<circle cx="800.8" cy="1050.1" r="3.75" fill="#000"/>
<circle cx="809.1" cy="1032.9" r="3.75" fill="#000"/>
<circle cx="817.7" cy="1043.3" r="3.75" fill="#000"/>
<text x="700.1" y="0" transform="translate(0,1121.0) scale(1,1.05)" font-size="22" font-weight="bold" text-anchor="middle" fill="#000">**</text>
<text x="736.5" y="0" transform="translate(0,1098.8) scale(1,1.05)" font-size="22" font-weight="bold" text-anchor="middle" fill="#000">**</text>
<text x="772.9" y="0" transform="translate(0,1050.7) scale(1,1.05)" font-size="22" font-weight="bold" text-anchor="middle" fill="#000">**</text>
<text x="809.2" y="0" transform="translate(0,1033.8) scale(1,1.05)" font-size="22" font-weight="bold" text-anchor="middle" fill="#000">**</text>
<path d="M663.0,1003.4 H809.9" stroke="#000" stroke-width="2.7" stroke-linecap="round"/>
<text x="736.0" y="0" transform="translate(0,995.8) scale(1,1.05)" font-size="20" font-weight="bold" text-anchor="middle" fill="#000">47x</text>
<text x="554.4" y="0" transform="translate(0,912.0) scale(1,1.05)" font-size="26" text-anchor="start" fill="#231f20" font-weight="bold" >h</text>
<text x="756.0" y="0" transform="translate(0,903.8) scale(1,1.05)" font-size="25" font-weight="bold" text-anchor="middle" fill="#000">HIVp</text>
<text x="0" y="0" transform="translate(576.0,1024.4) rotate(-90) scale(1,1.05)" font-size="23" font-weight="bold" text-anchor="middle" fill="#000">SEAP (U/L)</text>
<text x="737.0" y="0" transform="translate(0,1182.4) scale(1,1.05)" font-size="23.35" font-weight="bold" text-anchor="middle" fill="#000">Lopinavir (nM)</text>
<rect x="1081.6" y="1108.4" width="23.2" height="17.6" fill="#53badf" stroke="#000" stroke-width="1.5"/>
<rect x="1118.4" y="1062.9" width="23.2" height="63.1" fill="#53badf" stroke="#000" stroke-width="1.5"/>
<path d="M958.6,930.0 V1126.0 H1154.2" stroke="#000" stroke-width="2.45" fill="none" stroke-linejoin="miter"/>
<path d="M948.1,930.2 H958.6" stroke="#000" stroke-width="2.45"/>
<text x="947.2" y="0" transform="translate(0,939.1) scale(1,1.05)" font-size="24" font-weight="bold" text-anchor="end" fill="#000">500</text>
<path d="M948.1,969.4 H958.6" stroke="#000" stroke-width="2.45"/>
<text x="947.2" y="0" transform="translate(0,978.3) scale(1,1.05)" font-size="24" font-weight="bold" text-anchor="end" fill="#000">400</text>
<path d="M948.1,1008.5 H958.6" stroke="#000" stroke-width="2.45"/>
<text x="947.2" y="0" transform="translate(0,1017.4) scale(1,1.05)" font-size="24" font-weight="bold" text-anchor="end" fill="#000">300</text>
<path d="M948.1,1047.8 H958.6" stroke="#000" stroke-width="2.45"/>
<text x="947.2" y="0" transform="translate(0,1056.7) scale(1,1.05)" font-size="24" font-weight="bold" text-anchor="end" fill="#000">200</text>
<path d="M948.1,1086.9 H958.6" stroke="#000" stroke-width="2.45"/>
<text x="947.2" y="0" transform="translate(0,1095.8) scale(1,1.05)" font-size="24" font-weight="bold" text-anchor="end" fill="#000">100</text>
<path d="M948.1,1126.0 H958.6" stroke="#000" stroke-width="2.45"/>
<text x="945.8" y="0" transform="translate(0,1134.9) scale(1,1.05)" font-size="24" font-weight="bold" text-anchor="end" fill="#000">0</text>
<path d="M983.6,1126.0 V1136.3" stroke="#000" stroke-width="2.45"/>
<text x="984.2" y="0" transform="translate(0,1156.8) scale(1,1.05)" font-size="20.5" font-weight="bold" text-anchor="middle" fill="#000">0</text>
<path d="M1020.0,1126.0 V1136.3" stroke="#000" stroke-width="2.45"/>
<text x="1020.4" y="0" transform="translate(0,1156.8) scale(1,1.05)" font-size="20.5" font-weight="bold" text-anchor="middle" fill="#000">10<tspan dy="-7.5" font-size="14.5">0</tspan></text>
<path d="M1056.7,1126.0 V1136.3" stroke="#000" stroke-width="2.45"/>
<text x="1057.1" y="0" transform="translate(0,1156.8) scale(1,1.05)" font-size="20.5" font-weight="bold" text-anchor="middle" fill="#000">10<tspan dy="-7.5" font-size="14.5">1</tspan></text>
<path d="M1093.3,1126.0 V1136.3" stroke="#000" stroke-width="2.45"/>
<text x="1093.7" y="0" transform="translate(0,1156.8) scale(1,1.05)" font-size="20.5" font-weight="bold" text-anchor="middle" fill="#000">10<tspan dy="-7.5" font-size="14.5">2</tspan></text>
<path d="M1129.9,1126.0 V1136.3" stroke="#000" stroke-width="2.45"/>
<text x="1130.3" y="0" transform="translate(0,1156.8) scale(1,1.05)" font-size="20.5" font-weight="bold" text-anchor="middle" fill="#000">10<tspan dy="-7.5" font-size="14.5">3</tspan></text>
<circle cx="974.5" cy="1125.3" r="3.75" fill="#000"/>
<circle cx="983.1" cy="1125.3" r="3.75" fill="#000"/>
<circle cx="991.7" cy="1125.3" r="3.75" fill="#000"/>
<circle cx="1010.9" cy="1125.3" r="3.75" fill="#000"/>
<circle cx="1019.5" cy="1125.3" r="3.75" fill="#000"/>
<circle cx="1028.1" cy="1125.3" r="3.75" fill="#000"/>
<circle cx="1048.1" cy="1125.3" r="3.75" fill="#000"/>
<circle cx="1056.7" cy="1125.3" r="3.75" fill="#000"/>
<circle cx="1065.3" cy="1125.3" r="3.75" fill="#000"/>
<circle cx="1085.5" cy="1107.6" r="3.75" fill="#000"/>
<circle cx="1093.3" cy="1106.2" r="3.75" fill="#000"/>
<circle cx="1101.5" cy="1107.6" r="3.75" fill="#000"/>
<circle cx="1121.7" cy="1064.0" r="3.75" fill="#000"/>
<circle cx="1129.9" cy="1060.6" r="3.75" fill="#000"/>
<circle cx="1138.6" cy="1063.2" r="3.75" fill="#000"/>
<text x="1019.7" y="0" transform="translate(0,1115.6) scale(1,1.05)" font-size="21" text-anchor="middle" fill="#000">ns</text>
<text x="1056.5" y="0" transform="translate(0,1115.6) scale(1,1.05)" font-size="21" text-anchor="middle" fill="#000">ns</text>
<text x="1093.3" y="0" transform="translate(0,1106.7) scale(1,1.05)" font-size="22" font-weight="bold" text-anchor="middle" fill="#000">***</text>
<text x="1129.7" y="0" transform="translate(0,1061.2) scale(1,1.05)" font-size="22" font-weight="bold" text-anchor="middle" fill="#000">***</text>
<path d="M982.6,1032.1 H1130.8" stroke="#000" stroke-width="2.7" stroke-linecap="round"/>
<text x="1056.0" y="0" transform="translate(0,1024.8) scale(1,1.05)" font-size="20" font-weight="bold" text-anchor="middle" fill="#000">81x</text>
<text x="870.6" y="0" transform="translate(0,911.0) scale(1,1.05)" font-size="26" text-anchor="start" fill="#231f20" font-weight="bold" >i</text>
<text x="1077.2" y="0" transform="translate(0,903.8) scale(1,1.05)" font-size="25" font-weight="bold" text-anchor="middle" fill="#000">HCVp</text>
<text x="0" y="0" transform="translate(895.5,1024.4) rotate(-90) scale(1,1.05)" font-size="23" font-weight="bold" text-anchor="middle" fill="#000">SEAP (U/L)</text>
<text x="1056.3" y="0" transform="translate(0,1181.8) scale(1,1.05)" font-size="23.6" font-weight="bold" text-anchor="middle" fill="#000">Asunaprevir (nM)</text>
<rect x="1341.6" y="1070.5" width="22.9" height="56.8" fill="#53badf" stroke="#000" stroke-width="1.5"/>
<rect x="1378.1" y="978.6" width="23.4" height="148.7" fill="#53badf" stroke="#000" stroke-width="1.5"/>
<rect x="1414.5" y="977.7" width="23.4" height="149.6" fill="#53badf" stroke="#000" stroke-width="1.5"/>
<rect x="1450.9" y="976.5" width="23.5" height="150.8" fill="#53badf" stroke="#000" stroke-width="1.5"/>
<path d="M1352.9,1061.9 V1077.8 M1346.9,1061.9 H1358.9 M1346.9,1077.8 H1358.9" stroke="#000" stroke-width="1.4" fill="none"/>
<path d="M1389.3,970.8 V984.6 M1383.3,970.8 H1395.3 M1383.3,984.6 H1395.3" stroke="#000" stroke-width="1.4" fill="none"/>
<path d="M1426.1,970.8 V984.1 M1420.1,970.8 H1432.1 M1420.1,984.1 H1432.1" stroke="#000" stroke-width="1.4" fill="none"/>
<path d="M1462.6,971.6 V979.4 M1456.6,971.6 H1468.6 M1456.6,979.4 H1468.6" stroke="#000" stroke-width="1.4" fill="none"/>
<path d="M1292.6,932.5 V1127.3 H1487.0" stroke="#000" stroke-width="2.45" fill="none" stroke-linejoin="miter"/>
<path d="M1282.1,932.6 H1292.6" stroke="#000" stroke-width="2.45"/>
<text x="1281.2" y="0" transform="translate(0,941.5) scale(1,1.05)" font-size="24" font-weight="bold" text-anchor="end" fill="#000">500</text>
<path d="M1282.1,971.5 H1292.6" stroke="#000" stroke-width="2.45"/>
<text x="1281.2" y="0" transform="translate(0,980.4) scale(1,1.05)" font-size="24" font-weight="bold" text-anchor="end" fill="#000">400</text>
<path d="M1282.1,1010.3 H1292.6" stroke="#000" stroke-width="2.45"/>
<text x="1281.2" y="0" transform="translate(0,1019.2) scale(1,1.05)" font-size="24" font-weight="bold" text-anchor="end" fill="#000">300</text>
<path d="M1282.1,1049.3 H1292.6" stroke="#000" stroke-width="2.45"/>
<text x="1281.2" y="0" transform="translate(0,1058.2) scale(1,1.05)" font-size="24" font-weight="bold" text-anchor="end" fill="#000">200</text>
<path d="M1282.1,1088.3 H1292.6" stroke="#000" stroke-width="2.45"/>
<text x="1281.2" y="0" transform="translate(0,1097.2) scale(1,1.05)" font-size="24" font-weight="bold" text-anchor="end" fill="#000">100</text>
<path d="M1282.1,1127.3 H1292.6" stroke="#000" stroke-width="2.45"/>
<text x="1279.8" y="0" transform="translate(0,1136.2) scale(1,1.05)" font-size="24" font-weight="bold" text-anchor="end" fill="#000">0</text>
<path d="M1316.5,1127.3 V1137.6" stroke="#000" stroke-width="2.45"/>
<text x="1317.1" y="0" transform="translate(0,1158.0) scale(1,1.05)" font-size="20.5" font-weight="bold" text-anchor="middle" fill="#000">0</text>
<path d="M1352.9,1127.3 V1137.6" stroke="#000" stroke-width="2.45"/>
<text x="1353.3" y="0" transform="translate(0,1158.0) scale(1,1.05)" font-size="20.5" font-weight="bold" text-anchor="middle" fill="#000">10<tspan dy="-7.5" font-size="14.5">0</tspan></text>
<path d="M1389.3,1127.3 V1137.6" stroke="#000" stroke-width="2.45"/>
<text x="1389.7" y="0" transform="translate(0,1158.0) scale(1,1.05)" font-size="20.5" font-weight="bold" text-anchor="middle" fill="#000">10<tspan dy="-7.5" font-size="14.5">1</tspan></text>
<path d="M1426.1,1127.3 V1137.6" stroke="#000" stroke-width="2.45"/>
<text x="1426.5" y="0" transform="translate(0,1158.0) scale(1,1.05)" font-size="20.5" font-weight="bold" text-anchor="middle" fill="#000">10<tspan dy="-7.5" font-size="14.5">2</tspan></text>
<path d="M1462.6,1127.3 V1137.6" stroke="#000" stroke-width="2.45"/>
<text x="1463.0" y="0" transform="translate(0,1158.0) scale(1,1.05)" font-size="20.5" font-weight="bold" text-anchor="middle" fill="#000">10<tspan dy="-7.5" font-size="14.5">3</tspan></text>
<circle cx="1307.4" cy="1126.6" r="3.75" fill="#000"/>
<circle cx="1316.0" cy="1126.6" r="3.75" fill="#000"/>
<circle cx="1324.6" cy="1126.6" r="3.75" fill="#000"/>
<circle cx="1344.8" cy="1077.8" r="3.75" fill="#000"/>
<circle cx="1352.9" cy="1061.5" r="3.75" fill="#000"/>
<circle cx="1361.6" cy="1070.2" r="3.75" fill="#000"/>
<circle cx="1381.2" cy="973.4" r="3.75" fill="#000"/>
<circle cx="1389.3" cy="985.9" r="3.75" fill="#000"/>
<circle cx="1398.0" cy="973.4" r="3.75" fill="#000"/>
<circle cx="1417.6" cy="970.8" r="3.75" fill="#000"/>
<circle cx="1417.6" cy="984.1" r="3.75" fill="#000"/>
<circle cx="1435.0" cy="977.2" r="3.75" fill="#000"/>
<circle cx="1454.1" cy="979.4" r="3.75" fill="#000"/>
<circle cx="1462.6" cy="971.6" r="3.75" fill="#000"/>
<circle cx="1471.4" cy="976.8" r="3.75" fill="#000"/>
<text x="1352.7" y="0" transform="translate(0,1062.4) scale(1,1.05)" font-size="22" font-weight="bold" text-anchor="middle" fill="#000">**</text>
<text x="1389.4" y="0" transform="translate(0,975.3) scale(1,1.05)" font-size="22" font-weight="bold" text-anchor="middle" fill="#000">***</text>
<text x="1426.7" y="0" transform="translate(0,975.3) scale(1,1.05)" font-size="22" font-weight="bold" text-anchor="middle" fill="#000">***</text>
<text x="1462.7" y="0" transform="translate(0,975.3) scale(1,1.05)" font-size="22" font-weight="bold" text-anchor="middle" fill="#000">***</text>
<path d="M1316.0,944.4 H1463.4" stroke="#000" stroke-width="2.7" stroke-linecap="round"/>
<text x="1390.0" y="0" transform="translate(0,939.0) scale(1,1.05)" font-size="20" font-weight="bold" text-anchor="middle" fill="#000">165x</text>
<text x="1193.6" y="0" transform="translate(0,911.2) scale(1,1.05)" font-size="26" text-anchor="start" fill="#231f20" font-weight="bold" >j</text>
<text x="1388.5" y="0" transform="translate(0,903.8) scale(1,1.05)" font-size="25" font-weight="bold" text-anchor="middle" fill="#000">HRVp</text>
<text x="0" y="0" transform="translate(1229.3,1026.4) rotate(-90) scale(1,1.05)" font-size="23.3" font-weight="bold" text-anchor="middle" fill="#000">SEAP (U/L)</text>
<text x="1390.1" y="0" transform="translate(0,1183.2) scale(1,1.05)" font-size="23.4" font-weight="bold" text-anchor="middle" fill="#000">Rupintrivir (nM)</text>
<defs><clipPath id="clipMain"><ellipse cx="139" cy="604" rx="51.3" ry="24"/></clipPath><clipPath id="clipF1"><path d="M300,650 H436.5 L439.3,770 H300 Z"/></clipPath><clipPath id="clipF2"><path d="M466.4,680 H520 V760 H470.4 Z"/></clipPath></defs>
<text x="12.0" y="0" transform="translate(0,561.6) scale(1,1.05)" font-size="26" text-anchor="start" fill="#231f20" font-weight="bold" >c</text>
<path d="M74.0,592.5 C74.2,600 78.5,603.8 86.2,603.6" fill="none" stroke="#231f20" stroke-width="1.9"/>
<path d="M162.8,580.5 L170.2,573.6" fill="none" stroke="#231f20" stroke-width="2"/>
<path d="M186.6,572.6 C189.5,573.4 191.8,574.4 194.2,576" fill="none" stroke="#231f20" stroke-width="2"/>
<ellipse cx="139" cy="604" rx="52.6" ry="25.2" fill="none" stroke="#000" stroke-width="4.2"/>
<ellipse cx="191.2" cy="596.3" rx="22.8" ry="9.4" transform="rotate(-65 191.2 596.3)" fill="none" stroke="#000" stroke-width="4.2"/>
<ellipse cx="139" cy="604" rx="52.6" ry="25.2" fill="url(#lg)"/>
<ellipse cx="191.2" cy="596.3" rx="22.8" ry="9.4" transform="rotate(-65 191.2 596.3)" fill="#d5df57"/>
<polyline points="179.7,589.0 176.2,593.6 182.7,598.4 178.8,605.7 184.9,610.9 183.1,615.3" fill="none" stroke="#231f20" stroke-width="1.35" stroke-dasharray="4.6 1.2"/>
<path d="M166.60,572.04 A16.95,16.95 0 0 1 189.67,570.43 L183.69,577.81 A7.45,7.45 0 0 0 173.55,578.52 Z" fill="#1f75bb"/>
<g transform="translate(171.90,558.10) rotate(-10) scale(1.0)" fill="#1f75bb" stroke="#1f75bb"><circle cx="-6.75" cy="-12.4" r="3.5" fill="none" stroke-width="1.05"/><circle cx="-13.2" cy="0.8" r="3.65" fill="none" stroke-width="1.1"/><path d="M-6.4,-8.5 L-5.1,-9.2 Q-2.4,-5.5 1.3,-0.9 L-0.8,0.5 Q-3.5,-3.7 -6.4,-8.5 Z" stroke="none"/><path d="M-9.7,-0.5 Q-5,-0.2 -0.5,-0.9 L-0.2,1.9 Q-5,1.6 -9.7,1.1 Z" stroke="none"/><path d="M-0.6,-0.9 C4,-0.4 9,1.1 14,4.1 C16,5.4 18,6.7 19.7,8.2 C17.6,7.4 16,6.7 14,6.2 C9,5.1 5,4.5 2,4.4 Z" stroke="none"/><path d="M-1.0,1.0 L2.8,2.3 L5.9,11.5 L1.3,10.7 Z" stroke="none"/></g>
<path d="M73.60,581.20 L84.41,585.13 A11.5,11.5 0 1 1 84.11,576.52 Z" fill="url(#pg)" stroke="#000" stroke-width="2.2" stroke-linejoin="miter"/>
<text x="78.6" y="0" transform="translate(0,565.2) scale(1,1.05)" font-size="20.5" text-anchor="middle" fill="#231f20" font-weight="bold" >Pro</text>
<text x="187.8" y="0" transform="translate(0,555.2) scale(1,1.05)" font-size="20.3" text-anchor="middle" fill="#231f20" font-weight="bold" >CS</text>
<text x="139.9" y="0" transform="translate(0,608.7) scale(1,1.05)" font-size="20.3" text-anchor="middle" fill="#231f20" font-weight="bold" >fLuc</text>
<g transform="translate(-3.2,212.9)" >
<path d="M74.0,592.5 C74.2,600 78.5,603.8 86.2,603.6" fill="none" stroke="#231f20" stroke-width="1.9"/>
<path d="M162.8,580.5 L170.2,573.6" fill="none" stroke="#231f20" stroke-width="2"/>
<path d="M186.6,572.6 C189.5,573.4 191.8,574.4 194.2,576" fill="none" stroke="#231f20" stroke-width="2"/>
<ellipse cx="139" cy="604" rx="52.6" ry="25.2" fill="none" stroke="#000" stroke-width="4.2"/>
<ellipse cx="191.2" cy="596.3" rx="22.8" ry="9.4" transform="rotate(-65 191.2 596.3)" fill="none" stroke="#000" stroke-width="4.2"/>
<ellipse cx="139" cy="604" rx="52.6" ry="25.2" fill="url(#lg)"/>
<ellipse cx="191.2" cy="596.3" rx="22.8" ry="9.4" transform="rotate(-65 191.2 596.3)" fill="#d5df57"/>
<polyline points="179.7,589.0 176.2,593.6 182.7,598.4 178.8,605.7 184.9,610.9 183.1,615.3" fill="none" stroke="#231f20" stroke-width="1.35" stroke-dasharray="4.6 1.2"/>
<path d="M166.60,572.04 A16.95,16.95 0 0 1 189.67,570.43 L183.69,577.81 A7.45,7.45 0 0 0 173.55,578.52 Z" fill="#1f75bb"/>
<g transform="translate(174.90,558.10) rotate(-10) scale(1.0)" fill="#1f75bb" stroke="#1f75bb"><circle cx="-6.75" cy="-12.4" r="3.5" fill="none" stroke-width="1.05"/><circle cx="-13.2" cy="0.8" r="3.65" fill="none" stroke-width="1.1"/><path d="M-6.4,-8.5 L-5.1,-9.2 Q-2.4,-5.5 1.3,-0.9 L-0.8,0.5 Q-3.5,-3.7 -6.4,-8.5 Z" stroke="none"/><path d="M-9.7,-0.5 Q-5,-0.2 -0.5,-0.9 L-0.2,1.9 Q-5,1.6 -9.7,1.1 Z" stroke="none"/><path d="M-0.6,-0.9 C4,-0.4 9,1.1 14,4.1 C16,5.4 18,6.7 19.7,8.2 C17.6,7.4 16,6.7 14,6.2 C9,5.1 5,4.5 2,4.4 Z" stroke="none"/><path d="M-1.0,1.0 L2.8,2.3 L5.9,11.5 L1.3,10.7 Z" stroke="none"/></g>
<path d="M73.60,581.20 L84.41,585.13 A11.5,11.5 0 1 1 84.11,576.52 Z" fill="url(#pg)" stroke="#000" stroke-width="2.2" stroke-linejoin="miter"/>
<path d="M76.90,581.14 L88.61,585.05 L88.47,576.82 Z" fill="#231f20" stroke="#fff" stroke-width="0.9" stroke-linejoin="miter"/>
<path d="M76.90,581.14 L88.61,585.05 L88.47,576.82 Z" fill="#231f20"/>
<text x="78.6" y="0" transform="translate(0,565.2) scale(1,1.05)" font-size="20.5" text-anchor="middle" fill="#231f20" font-weight="bold" >Pro</text>
<text x="190.8" y="0" transform="translate(0,555.2) scale(1,1.05)" font-size="20.3" text-anchor="middle" fill="#231f20" font-weight="bold" >CS</text>
<text x="139.9" y="0" transform="translate(0,608.7) scale(1,1.05)" font-size="20.3" text-anchor="middle" fill="#231f20" font-weight="bold" >fLuc</text>
</g>
<path d="M132.9,656.6 V700" stroke="#231f20" stroke-width="1.8" fill="none"/>
<path d="M124.2,697.8 L132.9,718.2 L141.8,697.8 L132.9,702.6 Z" fill="#231f20"/>
<path d="M142.4,677.3 L158,670.6 L158,683.4 Z" fill="#231f20"/>
<path d="M232.3,657.3 L272,683.8" stroke="#231f20" stroke-width="1.8" fill="none"/>
<path d="M271.9,673.2 L284.4,691.0 L262.6,687.3 L269.5,682.4 Z" fill="#231f20"/>
<path d="M251.3,656.4 L266.7,649.8 Q265.6,656 266.9,662.3 Z" fill="#231f20"/>
<path d="M254.2,647.3 L271.2,664.7 M271.2,647.3 L254.2,664.7" stroke="#e8262b" stroke-width="1.4" fill="none"/>
<path d="M330.2,723.6 C330.5,730 335,734 342.8,734" fill="none" stroke="#858585" stroke-width="1.9"/>
<path d="M419.8,711.6 C421.5,708 424,705.5 427,703.8" fill="none" stroke="#858585" stroke-width="1.9"/>
<path d="M472.5,692.8 C474.8,693.4 476.6,695 477.8,697.6" fill="none" stroke="#858585" stroke-width="1.9"/>
<g clip-path="url(#clipF1)"><ellipse cx="396.6" cy="734.2" rx="53.6" ry="25.1" fill="url(#lgF)" stroke="#858585" stroke-width="2"/></g>
<g clip-path="url(#clipF2)"><ellipse cx="479.2" cy="717.2" rx="22.8" ry="9.5" transform="rotate(-66 479.2 717.2)" fill="url(#lgF2)" stroke="#858585" stroke-width="2"/></g>
<path d="M423.4,702.6 C426,699 430.5,696.6 436.8,696.8 L433.8,708.4 C431.5,707.8 429.6,708 427.4,708.8 Z" fill="#86a9d8"/>
<path d="M465.2,694.8 L467.6,690.6 C471.5,690.6 474.8,691.5 477,692.6 L475.5,699.6 C473,697.5 469.5,696 465.2,694.8 Z" fill="#86a9d8"/>
<g transform="translate(463.80,682.00) rotate(-10) scale(0.97)" fill="#86a9d8" stroke="#86a9d8"><circle cx="-6.75" cy="-12.4" r="3.5" fill="none" stroke-width="1.05"/><circle cx="-13.2" cy="0.8" r="3.65" fill="none" stroke-width="1.1"/><path d="M-6.4,-8.5 L-5.1,-9.2 Q-2.4,-5.5 1.3,-0.9 L-0.8,0.5 Q-3.5,-3.7 -6.4,-8.5 Z" stroke="none"/><path d="M-9.7,-0.5 Q-5,-0.2 -0.5,-0.9 L-0.2,1.9 Q-5,1.6 -9.7,1.1 Z" stroke="none"/><path d="M-0.6,-0.9 C4,-0.4 9,1.1 14,4.1 C16,5.4 18,6.7 19.7,8.2 C17.6,7.4 16,6.7 14,6.2 C9,5.1 5,4.5 2,4.4 Z" stroke="none"/><path d="M-1.0,1.0 L2.8,2.3 L5.9,11.5 L1.3,10.7 Z" stroke="none"/></g>
<path d="M330.50,711.70 L340.79,715.86 A11.1,11.1 0 1 1 340.79,707.54 Z" fill="url(#pgF)" stroke="#7a7a7a" stroke-width="2.1" stroke-linejoin="miter"/>
<text x="336.2" y="0" transform="translate(0,695.3) scale(1,1.05)" font-size="20.5" text-anchor="middle" fill="#8a8c8e" font-weight="bold" >Pro</text>
<text x="477.0" y="0" transform="translate(0,678.1) scale(1,1.05)" font-size="20.3" text-anchor="middle" fill="#8a8c8e" font-weight="bold" >CS</text>
<text x="397.0" y="0" transform="translate(0,739.4) scale(1,1.05)" font-size="20.3" text-anchor="middle" fill="#8a8c8e" font-weight="bold" >fLuc</text>
<text x="11.0" y="0" transform="translate(0,911.2) scale(1,1.05)" font-size="26" text-anchor="start" fill="#231f20" font-weight="bold" >g</text>
<path d="M114.4,949 C114.2,938 119,930.5 127.8,926.2" fill="none" stroke="#231f20" stroke-width="1.9"/>
<path d="M154.2,917.8 C157.5,917.6 160.5,918 163.6,918.8" fill="none" stroke="#231f20" stroke-width="1.9"/>
<path d="M187.6,932.2 C189.2,934.4 190.2,936.6 190.6,939.4" fill="none" stroke="#231f20" stroke-width="1.9"/>
<rect x="60.5" y="948.8" width="63.3" height="22.9" rx="11.45" fill="#626365" stroke="#000" stroke-width="2"/>
<text x="92.4" y="0" transform="translate(0,966.4) scale(1,1.05)" font-size="19.5" text-anchor="middle" fill="#2a2a2a" font-weight="bold" >TetR</text>
<path d="M204.3,932.4 L215.6,944.6 L208.1,958.8 L191.6,955.9 L189.2,939.4 Z" fill="#3cb14b" stroke="#000" stroke-width="2" stroke-linejoin="miter"/>
<path d="M164.28,918.56 A26.70,26.70 0 0 1 190.14,930.07 L182.67,935.10 A17.70,17.70 0 0 0 165.54,927.47 Z" fill="#1f75bb"/>
<g transform="translate(179.70,911.80) rotate(20) scale(1.0)" fill="#1f75bb" stroke="#1f75bb"><circle cx="-6.75" cy="-12.4" r="3.5" fill="none" stroke-width="1.05"/><circle cx="-13.2" cy="0.8" r="3.65" fill="none" stroke-width="1.1"/><path d="M-6.4,-8.5 L-5.1,-9.2 Q-2.4,-5.5 1.3,-0.9 L-0.8,0.5 Q-3.5,-3.7 -6.4,-8.5 Z" stroke="none"/><path d="M-9.7,-0.5 Q-5,-0.2 -0.5,-0.9 L-0.2,1.9 Q-5,1.6 -9.7,1.1 Z" stroke="none"/><path d="M-0.6,-0.9 C4,-0.4 9,1.1 14,4.1 C16,5.4 18,6.7 19.7,8.2 C17.6,7.4 16,6.7 14,6.2 C9,5.1 5,4.5 2,4.4 Z" stroke="none"/><path d="M-1.0,1.0 L2.8,2.3 L5.9,11.5 L1.3,10.7 Z" stroke="none"/></g>
<path d="M140.60,922.80 L152.29,928.25 A12.9,12.9 0 1 1 153.06,919.46 Z" fill="url(#pg)" stroke="#000" stroke-width="2.3" stroke-linejoin="miter"/>
<text x="140.3" y="0" transform="translate(0,906.7) scale(1,1.05)" font-size="20.5" text-anchor="middle" fill="#231f20" font-weight="bold" >Pro</text>
<text x="196.9" y="0" transform="translate(0,911.4) scale(1,1.05)" font-size="20.3" text-anchor="middle" fill="#231f20" font-weight="bold" >CS</text>
<text x="232.6" y="0" transform="translate(0,933.4) scale(1,1.05)" font-size="19.5" text-anchor="middle" fill="#231f20" font-weight="bold" >VP64</text>
<g transform="translate(0,189.6)" >
<path d="M114.4,949 C114.2,938 119,930.5 127.8,926.2" fill="none" stroke="#231f20" stroke-width="1.9"/>
<path d="M154.2,917.8 C157.5,917.6 160.5,918 163.6,918.8" fill="none" stroke="#231f20" stroke-width="1.9"/>
<path d="M187.6,932.2 C189.2,934.4 190.2,936.6 190.6,939.4" fill="none" stroke="#231f20" stroke-width="1.9"/>
<rect x="60.5" y="948.8" width="63.3" height="22.9" rx="11.45" fill="#626365" stroke="#000" stroke-width="2"/>
<text x="92.4" y="0" transform="translate(0,966.4) scale(1,1.05)" font-size="19.5" text-anchor="middle" fill="#2a2a2a" font-weight="bold" >TetR</text>
<path d="M204.3,932.4 L215.6,944.6 L208.1,958.8 L191.6,955.9 L189.2,939.4 Z" fill="#3cb14b" stroke="#000" stroke-width="2" stroke-linejoin="miter"/>
<path d="M164.28,918.56 A26.70,26.70 0 0 1 190.14,930.07 L182.67,935.10 A17.70,17.70 0 0 0 165.54,927.47 Z" fill="#1f75bb"/>
<g transform="translate(179.70,911.80) rotate(20) scale(1.0)" fill="#1f75bb" stroke="#1f75bb"><circle cx="-6.75" cy="-12.4" r="3.5" fill="none" stroke-width="1.05"/><circle cx="-13.2" cy="0.8" r="3.65" fill="none" stroke-width="1.1"/><path d="M-6.4,-8.5 L-5.1,-9.2 Q-2.4,-5.5 1.3,-0.9 L-0.8,0.5 Q-3.5,-3.7 -6.4,-8.5 Z" stroke="none"/><path d="M-9.7,-0.5 Q-5,-0.2 -0.5,-0.9 L-0.2,1.9 Q-5,1.6 -9.7,1.1 Z" stroke="none"/><path d="M-0.6,-0.9 C4,-0.4 9,1.1 14,4.1 C16,5.4 18,6.7 19.7,8.2 C17.6,7.4 16,6.7 14,6.2 C9,5.1 5,4.5 2,4.4 Z" stroke="none"/><path d="M-1.0,1.0 L2.8,2.3 L5.9,11.5 L1.3,10.7 Z" stroke="none"/></g>
<path d="M140.60,922.80 L152.29,928.25 A12.9,12.9 0 1 1 153.06,919.46 Z" fill="url(#pg)" stroke="#000" stroke-width="2.3" stroke-linejoin="miter"/>
<path d="M142.59,923.01 L161.39,931.92 L162.83,918.20 Z" fill="#231f20" stroke="#fff" stroke-width="0.9" stroke-linejoin="miter"/>
<path d="M142.59,923.01 L161.39,931.92 L162.83,918.20 Z" fill="#231f20"/>
<text x="140.3" y="0" transform="translate(0,906.7) scale(1,1.05)" font-size="20.5" text-anchor="middle" fill="#231f20" font-weight="bold" >Pro</text>
<text x="196.9" y="0" transform="translate(0,911.4) scale(1,1.05)" font-size="20.3" text-anchor="middle" fill="#231f20" font-weight="bold" >CS</text>
<text x="232.6" y="0" transform="translate(0,933.4) scale(1,1.05)" font-size="19.5" text-anchor="middle" fill="#231f20" font-weight="bold" >VP64</text>
</g>
<rect x="60" y="1163.1" width="68" height="21.3" fill="#bdc0c2"/>
<rect x="128" y="1163.1" width="62.8" height="21.3" fill="#1b7cc3"/>
<path d="M128,1174.4 H190.8" stroke="#1a3a55" stroke-width="0.6"/>
<text x="94.0" y="0" transform="translate(0,1182.2) scale(1,1.05)" font-size="19.5" text-anchor="middle" fill="#231f20" font-weight="bold" font-style="italic" >tetO</text>
<text x="159.3" y="0" transform="translate(0,1178.5) scale(1,1.05)" font-size="19.5" text-anchor="middle" fill="#231f20" font-weight="bold" font-style="italic" >seap</text>
<path d="M128.6,1163.5 V1151.4 H145" stroke="#231f20" stroke-width="1.6" fill="none"/>
<path d="M143.9,1144.4 L157.2,1151.4 L143.9,1158.6 Z" fill="#231f20"/>
<path d="M129.3,997.6 V1041" stroke="#231f20" stroke-width="1.8" fill="none"/>
<path d="M120.6,1039.2 L129.3,1059.2 L138.1,1039.2 L129.3,1044.2 Z" fill="#231f20"/>
<path d="M138.9,1018.3 L154.7,1011.6 L154.7,1024.4 Z" fill="#231f20"/>
<path d="M238,995.4 L277,1021.6" stroke="#231f20" stroke-width="1.8" fill="none"/>
<path d="M277.3,1011.2 L289.7,1029.5 L268.3,1025.4 L275,1020.6 Z" fill="#231f20"/>
<path d="M257.1,994.4 L272.9,988.2 Q271.8,994.3 273.1,1000.4 Z" fill="#231f20"/>
<path d="M259.3,985.4 L276.9,1002.7 M276.9,985.4 L259.3,1002.7" stroke="#e8262b" stroke-width="1.4" fill="none"/>
<path d="M373.6,1052.6 C373.4,1041 378,1033.5 386.6,1030.4" fill="none" stroke="#858585" stroke-width="1.9"/>
<path d="M413.6,1021.3 C416.5,1021.1 419.5,1021.3 423,1022.0" fill="none" stroke="#858585" stroke-width="1.9"/>
<path d="M463.2,988 C464,990 464.6,991.5 465,993.6" fill="none" stroke="#858585" stroke-width="1.9"/>
<rect x="319.4" y="1052.5" width="64.1" height="23.6" rx="11.8" fill="#a8aeb2" stroke="#858585" stroke-width="2"/>
<text x="352.3" y="0" transform="translate(0,1070.7) scale(1,1.05)" font-size="19.5" text-anchor="middle" fill="#6f7173" font-weight="bold" >TetR</text>
<path d="M478.9,987.0 L490.3,999.3 L482.4,1013.5 L465.7,1010.4 L464.4,993.7 Z" fill="#98cf9b" stroke="#858585" stroke-width="2"/>
<path d="M422.4,1022.6 C428.5,1021.8 434.5,1022.6 439.4,1025 L434.6,1032.3 C432,1031 429.4,1030.4 426.4,1030.4 Z" fill="#86a9d8"/>
<path d="M452.7,982.5 L458.6,975.9 L467,985.1 L459.7,989.9 Z" fill="#86a9d8"/>
<g transform="translate(458.20,966.40) rotate(20) scale(0.97)" fill="#86a9d8" stroke="#86a9d8"><circle cx="-6.75" cy="-12.4" r="3.5" fill="none" stroke-width="1.05"/><circle cx="-13.2" cy="0.8" r="3.65" fill="none" stroke-width="1.1"/><path d="M-6.4,-8.5 L-5.1,-9.2 Q-2.4,-5.5 1.3,-0.9 L-0.8,0.5 Q-3.5,-3.7 -6.4,-8.5 Z" stroke="none"/><path d="M-9.7,-0.5 Q-5,-0.2 -0.5,-0.9 L-0.2,1.9 Q-5,1.6 -9.7,1.1 Z" stroke="none"/><path d="M-0.6,-0.9 C4,-0.4 9,1.1 14,4.1 C16,5.4 18,6.7 19.7,8.2 C17.6,7.4 16,6.7 14,6.2 C9,5.1 5,4.5 2,4.4 Z" stroke="none"/><path d="M-1.0,1.0 L2.8,2.3 L5.9,11.5 L1.3,10.7 Z" stroke="none"/></g>
<path d="M400.00,1027.20 L411.68,1032.90 A13.0,13.0 0 1 1 412.50,1023.62 Z" fill="url(#pgF)" stroke="#3b3734" stroke-width="2.4" stroke-linejoin="miter"/>
<text x="400.3" y="0" transform="translate(0,1010.9) scale(1,1.05)" font-size="20.5" text-anchor="middle" fill="#8a8c8e" font-weight="bold" >Pro</text>
<text x="478.2" y="0" transform="translate(0,966.4) scale(1,1.05)" font-size="20.3" text-anchor="middle" fill="#8a8c8e" font-weight="bold" >CS</text>
<text x="507.5" y="0" transform="translate(0,988.8) scale(1,1.05)" font-size="19.5" text-anchor="middle" fill="#8a8c8e" font-weight="bold" >VP64</text>
</svg></body></html>
